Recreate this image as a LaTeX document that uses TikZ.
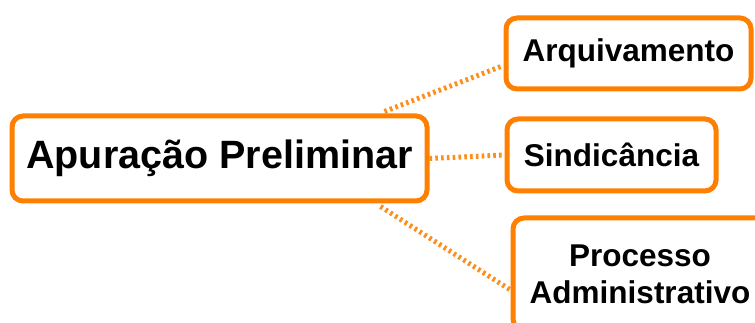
\documentclass[tikz,border=0pt]{standalone}
\usepackage{fontspec}
\setmainfont{Liberation Sans}
\definecolor{boxorange}{RGB}{255,128,0}
\begin{document}
\begin{tikzpicture}[x=1pt,y=-1pt,
  box/.style={draw=boxorange, line width=5pt, rounded corners=11pt, fill=white,
    inner sep=0pt, align=center, font=\bfseries\fontsize{31.5}{37}\selectfont},
  conn/.style={draw=boxorange!90, line width=5pt, dash pattern=on 2.6pt off 3.2pt}]
\useasboundingbox (0,0) rectangle (755,323);
\begin{scope}
\clip (0,0) rectangle (755,323);
\node[box, minimum width=415pt, minimum height=85pt, font=\bfseries\fontsize{39.5}{46}\selectfont] (main) at (219.5,158.5) {Apuração Preliminar};
\node[box, minimum width=245pt, minimum height=71pt] (arq) at (628.5,53.5) {Arquivamento};
\node[box, minimum width=209pt, minimum height=72pt] (sind) at (611.5,155) {Sindicância};
\node[box, minimum width=254pt, minimum height=112pt] (proc) at (640,274) {Processo\\Administrativo};
\begin{scope}[on background layer/.style={}]
\draw[conn] ([xshift=-45pt,yshift=2pt]main.north east) -- ([yshift=-12pt]arq.west);
\draw[conn] ([yshift=0pt]main.east) -- ([yshift=0pt]sind.west);
\draw[conn] ([xshift=-49pt,yshift=-3pt]main.south east) -- ([yshift=-16pt]proc.west);
\end{scope}
\end{scope}
\end{tikzpicture}
\end{document}
